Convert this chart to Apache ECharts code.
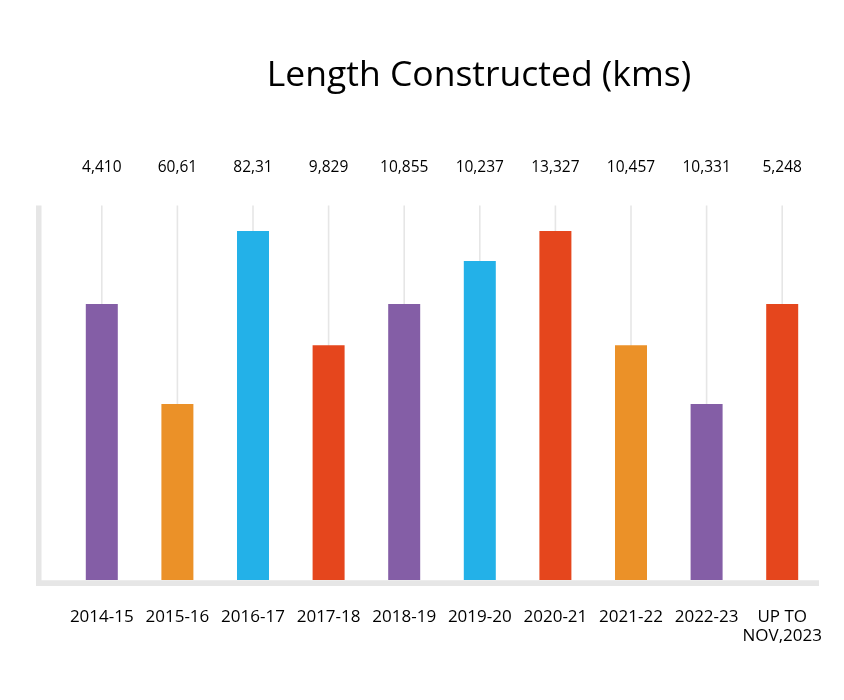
<!DOCTYPE html>
<html>
<head>
<meta charset="utf-8">
<script src="https://cdn.jsdelivr.net/npm/echarts@6/dist/echarts.min.js"></script>
<style>
html,body{margin:0;padding:0;background:#fff;}
#chart{width:844px;height:700px;}
</style>
</head>
<body>
<div id="chart"></div>
<script>
// Categories (fiscal years)
var categories = ['2014-15','2015-16','2016-17','2017-18','2018-19','2019-20','2020-21','2021-22','2022-23','UP TO\nNOV,2023'];
// Value labels printed above the plot (as shown in the reference)
var valueLabels = ['4,410','60,61','82,31','9,829','10,855','10,237','13,327','10,457','10,331','5,248'];
// Bar heights as drawn (relative scale, 0-100 = plot height)
var barHeights = [73.7, 47.0, 93.2, 62.7, 73.7, 85.2, 93.2, 62.7, 47.0, 73.7];
var barColors = ['#845ea6','#eb9128','#23b1e8','#e5461d','#845ea6','#23b1e8','#e5461d','#eb9128','#845ea6','#e5461d'];
var scaleMax = 100;
var guideValues = categories.map(function(){ return scaleMax; });

var chart = echarts.init(document.getElementById('chart'));
var font = '"Open Sans", "Noto Sans", sans-serif';
chart.setOption({
  animation: false,
  backgroundColor: '#ffffff',
  title: {
    text: 'Length Constructed (kms)',
    left: 474, top: 53, textAlign: 'center',
    textStyle: { fontFamily: font, fontSize: 35.5, fontWeight: 'normal', color: '#000' }
  },
  grid: { left: 64, right: 24, top: 205.5, bottom: 120 },
  xAxis: [
    {
      type: 'category', data: categories, position: 'bottom',
      axisLine: { show: false }, axisTick: { show: false },
      axisLabel: { margin: 28, fontFamily: font, fontSize: 17, color: '#000', lineHeight: 19, interval: 0 }
    },
    {
      type: 'category', data: valueLabels, position: 'top',
      axisLine: { show: false }, axisTick: { show: false },
      axisLabel: { margin: 30, fontFamily: font, fontSize: 15.5, color: '#000', interval: 0 }
    }
  ],
  yAxis: {
    type: 'value', min: 0, max: scaleMax,
    axisLine: { show: false }, axisTick: { show: false },
    axisLabel: { show: false }, splitLine: { show: false }
  },
  series: [
    {
      type: 'bar', xAxisIndex: 1, data: guideValues, barWidth: 1.6,
      itemStyle: { color: '#e6e6e6' }, z: 1, silent: true
    },
    {
      type: 'bar', xAxisIndex: 0, barWidth: 32, z: 3,
      data: barHeights.map(function(v, i){
        return { value: v, itemStyle: { color: barColors[i] } };
      })
    }
  ],
  graphic: [
    { type: 'rect', shape: { x: 36, y: 205.5, width: 5.5, height: 380 }, style: { fill: '#e6e6e6' }, z: 0 },
    { type: 'rect', shape: { x: 36, y: 580.3, width: 783, height: 5.7 }, style: { fill: '#e6e6e6' }, z: 0 }
  ]
});
</script>
</body>
</html>
